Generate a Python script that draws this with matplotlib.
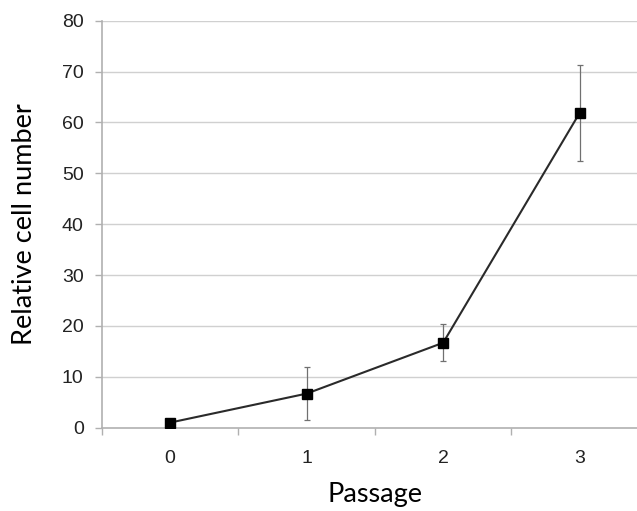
import matplotlib
matplotlib.use("Agg")
import matplotlib.pyplot as plt
from matplotlib.ticker import FixedLocator

passage = [0, 1, 2, 3]
rel_cell = [1.0, 6.7, 16.7, 61.9]
err = [0.0, 5.2, 3.6, 9.4]
yticks = [0, 10, 20, 30, 40, 50, 60, 70, 80]

fig = plt.figure(figsize=(6.37, 5.11), dpi=100)
ax = fig.add_axes([0.1597, 0.163, 0.8576, 0.7965])

for y in yticks[1:]:
    ax.axhline(y, color="#d0d0d0", lw=1.0, zorder=0)

ax.errorbar(passage, rel_cell, yerr=err, fmt="none", ecolor="#707070",
            elinewidth=0.9, capsize=2.5, capthick=0.9, zorder=2)
ax.plot(passage, rel_cell, color="#2a2a2a", lw=1.5, marker="s",
        markersize=7, markerfacecolor="black", markeredgecolor="black", zorder=3)

ax.set_xlim(-0.5, 3.5)
ax.set_ylim(0, 80)
ax.set_yticks(yticks)
ax.set_xticks(passage)
ax.xaxis.set_minor_locator(FixedLocator([-0.5, 0.5, 1.5, 2.5, 3.5]))
ax.tick_params(axis="x", which="major", length=0, pad=16, labelsize=14)
ax.tick_params(axis="x", which="minor", length=5, color="#b0b0b0", width=1)
ax.tick_params(axis="y", length=5, color="#b0b0b0", width=1, labelsize=14, pad=8)
for lab in ax.get_xticklabels() + ax.get_yticklabels():
    lab.set_fontfamily("Liberation Sans")
    lab.set_color("#222222")

for s in ["top", "right"]:
    ax.spines[s].set_visible(False)
ax.spines["left"].set_color("#b0b0b0")
ax.spines["bottom"].set_color("#b0b0b0")
ax.spines["left"].set_linewidth(1.2)
ax.spines["bottom"].set_linewidth(1.2)

ax.set_xlabel("Passage", fontsize=19.5, fontfamily="Lato", labelpad=11)
ax.set_ylabel("Relative cell number", fontsize=19.5, fontfamily="Lato", labelpad=18)

fig.savefig("out.png", dpi=100)
